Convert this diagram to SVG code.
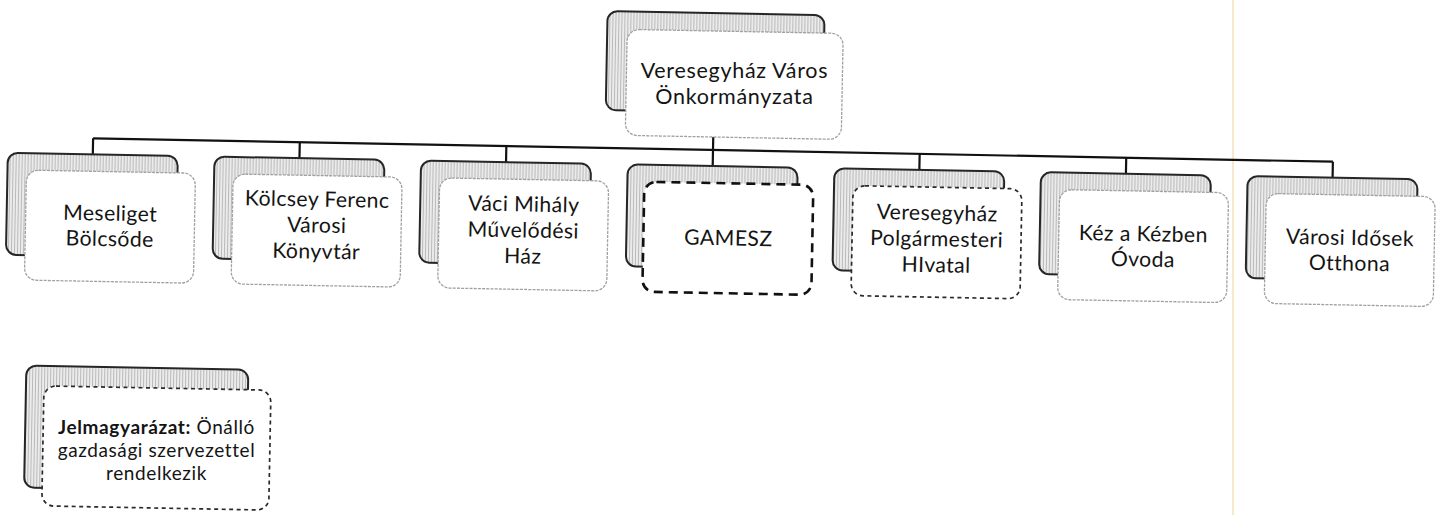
<svg xmlns="http://www.w3.org/2000/svg" width="1447" height="515" viewBox="0 0 1447 515">
  <defs>
    <pattern id="hatch" patternUnits="userSpaceOnUse" width="3" height="3">
      <rect width="3" height="3" fill="#ebebeb"/>
      <rect x="1" width="1" height="3" fill="#b9b9b9"/>
    </pattern>
    <style>
      .back { fill: url(#hatch); stroke: #262626; stroke-width: 2; }
      .front { fill: #ffffff; stroke: #a0a0a0; stroke-width: 1.3; stroke-dasharray: 3 1.2; }
      .dash { fill: #ffffff; stroke: #2b2b2b; stroke-width: 1.7; stroke-dasharray: 4 3.5; }
      .dashbold { fill: #ffffff; stroke: #111111; stroke-width: 2.6; stroke-dasharray: 9 6; }
      .conn { fill: none; stroke: #111111; stroke-width: 2.2; }
      text { font-family: Lato, "Liberation Sans", sans-serif; fill: #141414; text-anchor: middle; }
      .t { font-size: 21.2px; letter-spacing: 0.4px; }
      .tt { font-size: 21.5px; letter-spacing: 0.7px; }
      .tl { font-size: 19px; letter-spacing: 0.6px; }
      .b { font-weight: bold; }
    </style>
  </defs>
  <rect width="1447" height="515" fill="#ffffff"/>
  <line x1="1233" y1="0" x2="1233" y2="515" stroke="#f4e2b8" stroke-width="1.5"/>

  <g transform="rotate(1.08 713 150)">
    <g id="connectors">
      <line class="conn" x1="93" y1="150" x2="1333" y2="150"/>
      <line class="conn" x1="713" y1="137" x2="713" y2="150"/>
      <line class="conn" x1="93" y1="150" x2="93" y2="166"/>
      <line class="conn" x1="299.7" y1="150" x2="299.7" y2="166"/>
      <line class="conn" x1="506.3" y1="150" x2="506.3" y2="166"/>
      <line class="conn" x1="713" y1="150" x2="713" y2="166"/>
      <line class="conn" x1="919.7" y1="150" x2="919.7" y2="166"/>
      <line class="conn" x1="1126.3" y1="150" x2="1126.3" y2="166"/>
      <line class="conn" x1="1333" y1="150" x2="1333" y2="166"/>
    </g>

    <g id="node-onkormanyzat-box">
      <rect class="back" x="605" y="13" width="217" height="99" rx="10"/>
      <rect class="front" x="625" y="31" width="216" height="106" rx="12"/>
    </g>

    <g id="node-meseliget">
      <rect class="back" x="8" y="166" width="170" height="102" rx="10"/>
      <rect class="front" x="27" y="183" width="169" height="110" rx="12"/>
      <text class="t" x="111.5" y="232"><tspan x="111.5">Meseliget</tspan><tspan x="111.5" dy="25.5">Bölcsőde</tspan></text>
    </g>

    <g id="node-kolcsey">
      <rect class="back" x="214.7" y="166" width="170" height="102" rx="10"/>
      <rect class="front" x="233.7" y="183" width="169" height="110" rx="12"/>
      <text class="t" x="318.2" y="214"><tspan x="318.2">Kölcsey Ferenc</tspan><tspan x="318.2" dy="26">Városi</tspan><tspan x="318.2" dy="26">Könyvtár</tspan></text>
    </g>

    <g id="node-vaci">
      <rect class="back" x="421.3" y="166" width="170" height="102" rx="10"/>
      <rect class="front" x="440.3" y="183" width="169" height="110" rx="12"/>
      <text class="t" x="524.8" y="215"><tspan x="524.8">Váci Mihály</tspan><tspan x="524.8" dy="26">Művelődési</tspan><tspan x="524.8" dy="26">Ház</tspan></text>
    </g>

    <g id="node-gamesz">
      <rect class="back" x="628" y="166" width="170" height="102" rx="10"/>
      <rect class="dashbold" x="645" y="183" width="169" height="110" rx="12"/>
      <text class="t" x="730" y="245">GAMESZ</text>
    </g>

    <g id="node-polgarmesteri">
      <rect class="back" x="834.7" y="166" width="170" height="102" rx="10"/>
      <rect class="dash" x="853.7" y="183" width="169" height="110" rx="12"/>
      <text class="t" x="938.2" y="216"><tspan x="938.2">Veresegyház</tspan><tspan x="938.2" dy="26">Polgármesteri</tspan><tspan x="938.2" dy="26">HIvatal</tspan></text>
    </g>

    <g id="node-kez">
      <rect class="back" x="1041.3" y="166" width="170" height="102" rx="10"/>
      <rect class="front" x="1060.3" y="183" width="169" height="110" rx="12"/>
      <text class="t" x="1144.8" y="233"><tspan x="1144.8">Kéz a Kézben</tspan><tspan x="1144.8" dy="25.5">Óvoda</tspan></text>
    </g>

    <g id="node-idosek">
      <rect class="back" x="1248" y="166" width="170" height="102" rx="10"/>
      <rect class="front" x="1267" y="183" width="169" height="110" rx="12"/>
      <text class="t" x="1351.5" y="233"><tspan x="1351.5">Városi Idősek</tspan><tspan x="1351.5" dy="25.5">Otthona</tspan></text>
    </g>
  </g>

  <g id="node-onkormanyzat">
    <text class="tt" x="734.4" y="78"><tspan x="734.4">Veresegyház Város</tspan><tspan x="734.4" dy="26">Önkormányzata</tspan></text>
  </g>

  <g id="legend">
    <g transform="rotate(1.08 156 440)">
      <rect class="back" x="25" y="368" width="222" height="122" rx="10"/>
      <rect class="dash" x="43" y="388" width="227" height="120" rx="12"/>
    </g>
    <text class="tl" x="156.5" y="434"><tspan x="156.5"><tspan class="b">Jelmagyarázat:</tspan> Önálló</tspan><tspan x="156.5" dy="23">gazdasági szervezettel</tspan><tspan x="156.5" dy="23">rendelkezik</tspan></text>
  </g>
</svg>
